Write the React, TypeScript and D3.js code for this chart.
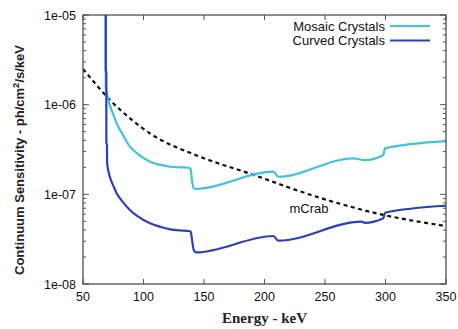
import { useEffect, useRef } from 'react';
import * as d3 from 'd3';

// energy (keV), sensitivity (ph/cm2/s/keV)
const mosaicE = [68.8, 68.8, 70, 72, 75, 77.8, 83, 88.8, 95, 105.4, 115, 122, 130, 137.5, 139, 140, 141.5, 143, 207.3, 211.4, 273.4, 283, 298.2, 299.6, 350];
const mosaicS = [1.2e-5, 1.55e-6, 1.3e-6, 1.0e-6, 7.8e-7, 6.2e-7, 4.6e-7, 3.4e-7, 2.85e-7, 2.31e-7, 2.12e-7, 2.03e-7, 2.0e-7, 1.98e-7, 1.9e-7, 1.45e-7, 1.18e-7, 1.15e-7, 1.79e-7, 1.57e-7, 2.52e-7, 2.41e-7, 2.75e-7, 3.26e-7, 3.93e-7];

const curvedE = [68.8, 68.8, 69.3, 69.3, 69.8, 70, 72, 75, 77.8, 83, 88.8, 95, 105.4, 115, 122, 130, 137, 139, 140, 141.5, 143.5, 207.3, 211.4, 280.3, 283, 298.2, 299.6, 350];
const curvedS = [1.2e-5, 2.4e-6, 2.3e-6, 3.7e-7, 3.6e-7, 2.2e-7, 1.6e-7, 1.25e-7, 1.03e-7, 8.2e-8, 6.7e-8, 5.7e-8, 4.75e-8, 4.3e-8, 4.07e-8, 3.95e-8, 3.9e-8, 3.85e-8, 3.2e-8, 2.4e-8, 2.25e-8, 3.43e-8, 3.04e-8, 4.96e-8, 4.8e-8, 5.4e-8, 6.24e-8, 7.46e-8];

const crabE = [50, 73.7, 105.4, 146.7, 188, 243, 298.2, 350];
const crabS = [2.5e-6, 1.08e-6, 4.78e-7, 2.63e-7, 1.7e-7, 9.4e-8, 5.9e-8, 4.43e-8];

const xTicks = [50, 100, 150, 200, 250, 300, 350];
const yTicks = [1e-8, 1e-7, 1e-6, 1e-5];

const series = [
  { name: 'Mosaic Crystals', color: '#3fc4dd', e: mosaicE, s: mosaicS },
  { name: 'Curved Crystals', color: '#2b3fbc', e: curvedE, s: curvedS },
];

const App = () => {
  const svgRef = useRef<SVGSVGElement>(null);

  useEffect(() => {
    const root = d3.select(svgRef.current);
    root.selectAll('*').remove();

    const left = 83, right = 446, top = 15, bottom = 284;
    const x = d3.scaleLinear().domain([50, 350]).range([left, right]);
    const y = d3.scaleLog().domain([1e-8, 1e-5]).range([bottom, top]);
    const sans = 'Liberation Sans, Arial, sans-serif';

    root.append('defs').append('clipPath').attr('id', 'plot-clip')
      .append('rect').attr('x', left).attr('y', top).attr('width', right - left).attr('height', bottom - top);

    // minor + major ticks on log axis, both sides
    const minor: number[] = [];
    for (let p = -8; p < -5; p++) for (let m = 2; m <= 9; m++) minor.push(m * Math.pow(10, p));
    const tg = root.append('g').attr('stroke', '#555').attr('stroke-width', 1);
    minor.forEach(v => {
      tg.append('line').attr('x1', left).attr('x2', left + 3).attr('y1', y(v)).attr('y2', y(v));
      tg.append('line').attr('x1', right).attr('x2', right - 3).attr('y1', y(v)).attr('y2', y(v));
    });
    yTicks.forEach(v => {
      tg.append('line').attr('x1', left).attr('x2', left + 6).attr('y1', y(v)).attr('y2', y(v));
      tg.append('line').attr('x1', right).attr('x2', right - 6).attr('y1', y(v)).attr('y2', y(v));
    });
    xTicks.forEach(v => {
      tg.append('line').attr('x1', x(v)).attr('x2', x(v)).attr('y1', bottom).attr('y2', bottom - 5);
      tg.append('line').attr('x1', x(v)).attr('x2', x(v)).attr('y1', top).attr('y2', top + 5);
    });

    const plot = root.append('g').attr('clip-path', 'url(#plot-clip)');

    const crab = crabE.map((e, i) => [e, crabS[i]] as [number, number]);
    plot.append('path')
      .attr('d', d3.line<[number, number]>().x(d => x(d[0])).y(d => y(d[1])).curve(d3.curveMonotoneX)(crab))
      .attr('fill', 'none').attr('stroke', '#111').attr('stroke-width', 2.2)
      .attr('stroke-dasharray', '4,3.5');

    series.forEach(s => {
      const pts = s.e.map((e, i) => [e, s.s[i]] as [number, number]);
      plot.append('path')
        .attr('d', d3.line<[number, number]>().x(d => x(d[0])).y(d => y(d[1])).curve(d3.curveMonotoneX)(pts))
        .attr('fill', 'none').attr('stroke', s.color).attr('stroke-width', 2.2)
        .attr('stroke-linejoin', 'round');
    });

    root.append('rect').attr('x', left).attr('y', top).attr('width', right - left).attr('height', bottom - top)
      .attr('fill', 'none').attr('stroke', '#444').attr('stroke-width', 1.2);

    // tick labels
    root.append('g').selectAll('text').data(yTicks).join('text')
      .attr('x', left - 7).attr('y', d => y(d) + 4.5).attr('text-anchor', 'end')
      .attr('font-family', sans).attr('font-size', 12.5).attr('fill', '#111')
      .text(d => d3.format('.0e')(d).replace(/e-(\d)$/, 'e-0$1'));

    root.append('g').selectAll('text').data(xTicks).join('text')
      .attr('x', d => x(d)).attr('y', bottom + 17).attr('text-anchor', 'middle')
      .attr('font-family', sans).attr('font-size', 12.5).attr('fill', '#111')
      .text(d => d);

    // legend
    series.forEach((s, i) => {
      const ly = 26 + i * 14.5;
      root.append('text').attr('x', 385).attr('y', ly + 4.5).attr('text-anchor', 'end')
        .attr('font-family', sans).attr('font-size', 13).attr('fill', '#111').text(s.name);
      root.append('line').attr('x1', 390).attr('x2', 430).attr('y1', ly).attr('y2', ly)
        .attr('stroke', s.color).attr('stroke-width', 2.2);
    });

    root.append('text').attr('x', 309).attr('y', 213).attr('text-anchor', 'middle')
      .attr('font-family', sans).attr('font-size', 13).attr('fill', '#111').text('mCrab');

    // axis titles
    root.append('text').attr('x', (left + right) / 2).attr('y', 323).attr('text-anchor', 'middle')
      .attr('font-family', 'Liberation Serif, Times New Roman, serif').attr('font-weight', 'bold')
      .attr('font-size', 15).attr('fill', '#222').text('Energy - keV');

    const yt = root.append('text').attr('transform', 'translate(24,160) rotate(-90)')
      .attr('text-anchor', 'middle').attr('font-family', sans).attr('font-weight', 'bold')
      .attr('font-size', 13).attr('fill', '#222');
    yt.append('tspan').text('Continuum Sensitivity - ph/cm');
    yt.append('tspan').attr('dy', -5).attr('font-size', 9.5).text('2');
    yt.append('tspan').attr('dy', 5).text('/s/keV');
  }, []);

  return (
    <svg ref={svgRef} width={458} height={329}
      style={{ position: 'absolute', left: 0, top: 0, background: '#fff' }} />
  );
};

export default App;
